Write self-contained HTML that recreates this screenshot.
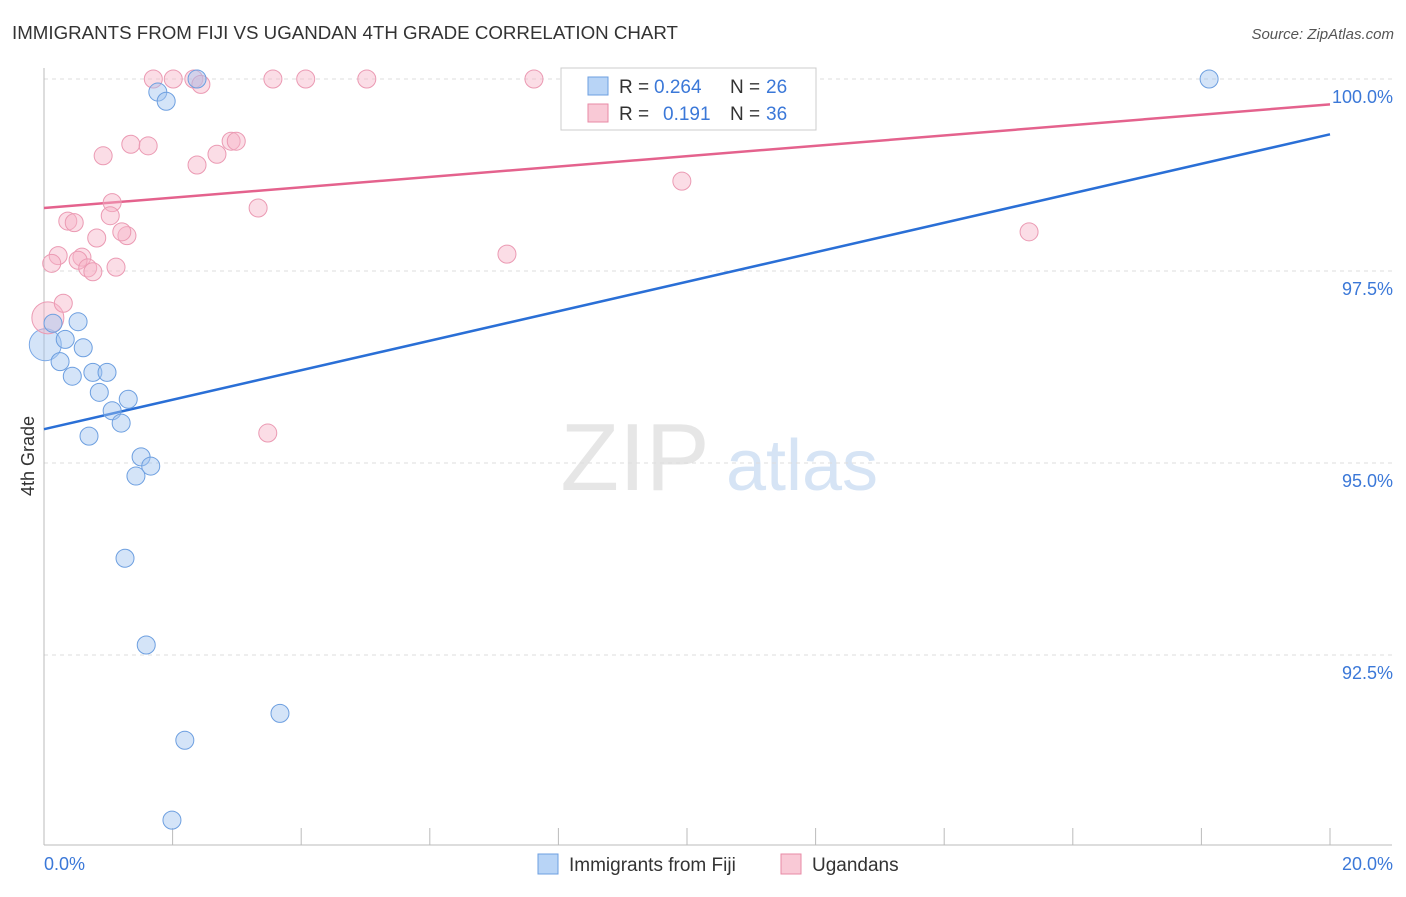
<!DOCTYPE html>
<html><head><meta charset="utf-8"><style>
body{margin:0;background:#fff;font-family:"Liberation Sans",sans-serif;}
svg text{font-family:"Liberation Sans",sans-serif;}
</style></head><body>
<svg id="chart" width="1406" height="892" xmlns="http://www.w3.org/2000/svg">
<text x="12" y="39" font-size="18" fill="#333" textLength="666" lengthAdjust="spacingAndGlyphs">IMMIGRANTS FROM FIJI VS UGANDAN 4TH GRADE CORRELATION CHART</text>
<text x="1394" y="39" font-size="15" fill="#555" text-anchor="end" font-style="italic">Source: ZipAtlas.com</text>
<text transform="translate(34,456) rotate(-90)" font-size="18" fill="#333" text-anchor="middle">4th Grade</text>
<g><text x="635" y="490" font-size="96" fill="#e6e6e6" text-anchor="middle" font-family="Liberation Serif">ZIP</text><text x="802" y="490" font-size="72" fill="#d6e4f5" text-anchor="middle">atlas</text></g>
<g id="grid"></g><g id="axes"></g><g id="lines"></g><g id="pts"></g>
<g>
<rect x="561" y="68" width="255" height="62" fill="#fff" stroke="#ccc"/>
<rect x="588" y="77" width="20" height="18" fill="#b8d4f6" stroke="#6d9fe0"/>
<text x="619" y="93" font-size="19" fill="#333">R =</text>
<text x="654" y="93" font-size="19" fill="#3b78d8">0.264</text>
<text x="730" y="93" font-size="19" fill="#333">N =</text>
<text x="766" y="93" font-size="19" fill="#3b78d8">26</text>
<rect x="588" y="104" width="20" height="18" fill="#f9c9d6" stroke="#e88aa6"/>
<text x="619" y="120" font-size="19" fill="#333">R =</text>
<text x="663" y="120" font-size="19" fill="#3b78d8">0.191</text>
<text x="730" y="120" font-size="19" fill="#333">N =</text>
<text x="766" y="120" font-size="19" fill="#3b78d8">36</text>
</g>
<g>
<rect x="538" y="854" width="20" height="20" fill="#b8d4f6" stroke="#6d9fe0"/>
<text x="569" y="871" font-size="19" fill="#333">Immigrants from Fiji</text>
<rect x="781" y="854" width="20" height="20" fill="#f9c9d6" stroke="#e88aa6"/>
<text x="812" y="871" font-size="19" fill="#333">Ugandans</text>
</g>
</svg>
<script>
const yTicks=[100,97.5,95,92.5];
const yTickLabels=["100.0%","97.5%","95.0%","92.5%"];
const xTicks=[0,2,4,6,8,10,12,14,16,18,20];
const xTickLabels=["0.0%","20.0%"];
const fijiX=[2.38,1.77,1.90,18.12,0.14,0.53,0.33,0.61,0.25,0.44,0.76,0.98,0.86,1.31,1.06,1.20,0.70,1.51,1.66,1.43,1.26,1.59,3.67,2.19,1.99];
const fijiY=[100,99.83,99.71,100,96.82,96.84,96.61,96.50,96.32,96.13,96.18,96.18,95.92,95.83,95.68,95.52,95.35,95.08,94.96,94.83,93.76,92.63,91.74,91.39,90.35];
const ugX=[1.70,2.01,2.33,3.56,4.07,5.02,7.62,2.44,2.91,2.99,1.35,1.62,0.92,2.69,2.38,9.92,1.06,3.33,1.03,0.37,0.47,1.29,0.82,1.21,15.32,0.22,0.59,7.20,0.12,0.53,0.68,1.12,0.76,0.30,3.48];
const ugY=[100,100,100,100,100,100,100,99.93,99.19,99.19,99.15,99.13,99.0,99.02,98.88,98.67,98.39,98.32,98.22,98.15,98.13,97.96,97.93,98.01,98.01,97.70,97.68,97.72,97.60,97.64,97.54,97.55,97.49,97.08,95.39];
const bigX=[0.02,0.06];const bigY=[96.54,96.89];
const fijiTrend=[95.44,99.28];
const ugTrend=[98.32,99.67];
const xs=v=>44+v*64.3, ys=v=>79+(100-v)*76.8;
const NS="http://www.w3.org/2000/svg";
function mk(p,t,a){const e=document.createElementNS(NS,t);for(const k in a)e.setAttribute(k,a[k]);document.getElementById(p).appendChild(e);return e;}
yTicks.forEach((v,i)=>{
const l=mk('grid','line',{x1:44,x2:1392,y1:ys(v),y2:ys(v),stroke:'#ddd','stroke-dasharray':'4,4'});


const t=mk('axes','text',{x:1393,y:ys(v)+24,'font-size':18,fill:'#3b78d8','text-anchor':'end'});t.textContent=yTickLabels[i];


});
const ax=mk('axes','line',{x1:44,x2:44,y1:68,y2:845,stroke:'#bbb'});


const bx=mk('axes','line',{x1:44,x2:1392,y1:845,y2:845,stroke:'#bbb'});


xTicks.forEach(v=>{const t=mk('axes','line',{x1:xs(v),x2:xs(v),y1:828,y2:845,stroke:'#bbb'});

});
const xl0=mk('axes','text',{x:44,y:870,'font-size':18,fill:'#3b78d8'});xl0.textContent=xTickLabels[0];


const xl1=mk('axes','text',{x:1393,y:870,'font-size':18,fill:'#3b78d8','text-anchor':'end'});xl1.textContent=xTickLabels[1];


const bl=mk('lines','line',{x1:xs(0),y1:ys(fijiTrend[0]),x2:xs(20),y2:ys(fijiTrend[1]),stroke:'#2a6fd6','stroke-width':2.5});


const pl=mk('lines','line',{x1:xs(0),y1:ys(ugTrend[0]),x2:xs(20),y2:ys(ugTrend[1]),stroke:'#e4628d','stroke-width':2.5});


const bc=mk('pts','circle',{cx:xs(bigX[0]),cy:ys(bigY[0]),r:16,fill:'rgba(160,196,240,0.45)',stroke:'#7aa8e6'});


const pc=mk('pts','circle',{cx:xs(bigX[1]),cy:ys(bigY[1]),r:16,fill:'rgba(246,180,200,0.45)',stroke:'#eb9ab3'});


ugX.forEach((v,i)=>{const c=mk('pts','circle',{cx:xs(v),cy:ys(ugY[i]),r:9,fill:'rgba(246,180,200,0.45)',stroke:'#eb9ab3'});

});
fijiX.forEach((v,i)=>{const c=mk('pts','circle',{cx:xs(v),cy:ys(fijiY[i]),r:9,fill:'rgba(160,196,240,0.45)',stroke:'#6d9fe0'});

});
</script>
</body></html>
